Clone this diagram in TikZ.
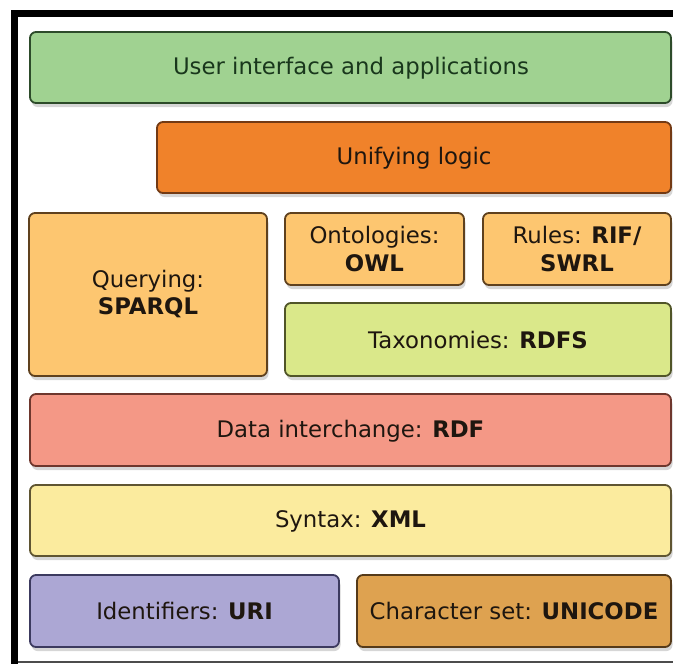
\documentclass[tikz,border=0pt]{standalone}
\usepackage{fontspec}
\setmainfont{DejaVu Sans}
\usetikzlibrary{shadows}
\definecolor{uiFill}{RGB}{160,210,145}
\definecolor{uiDraw}{RGB}{45,75,42}
\definecolor{uiText}{RGB}{25,55,28}
\definecolor{logicFill}{RGB}{240,130,42}
\definecolor{logicDraw}{RGB}{115,58,20}
\definecolor{paleOrange}{RGB}{253,198,112}
\definecolor{paleOrangeDraw}{RGB}{95,65,30}
\definecolor{taxFill}{RGB}{218,232,138}
\definecolor{taxDraw}{RGB}{80,85,40}
\definecolor{rdfFill}{RGB}{244,152,134}
\definecolor{rdfDraw}{RGB}{110,55,45}
\definecolor{xmlFill}{RGB}{251,235,158}
\definecolor{xmlDraw}{RGB}{95,85,50}
\definecolor{uriFill}{RGB}{172,167,212}
\definecolor{uriDraw}{RGB}{60,58,95}
\definecolor{uniFill}{RGB}{222,162,80}
\definecolor{uniDraw}{RGB}{85,58,25}
\definecolor{labelText}{RGB}{30,22,15}
\begin{document}
\begin{tikzpicture}[x=1pt,y=-1pt,
  layer/.style={draw, line width=1.8pt, rounded corners=6pt,
    drop shadow={opacity=0.32, shadow xshift=1.5pt, shadow yshift=-4pt}},
  caption/.style={text=labelText, font=\fontsize{22.8}{28}\selectfont, align=center},
]
\useasboundingbox (0,0) rectangle (673,664);
\fill[white] (0,0) rectangle (673,664);
% black frame on the top and left, thin rule at the bottom
\fill[black] (11,10) rectangle (673,17);
\fill[black] (11,10) rectangle (18,664);
\draw[black!70, line width=1.2pt] (18,662) -- (673,662);

% the layers of the stack, top to bottom
\path[layer, fill=uiFill, draw=uiDraw] (30,32) rectangle (671,103);
\node[caption, text=uiText] (ui) at (351,68) {User interface and applications};

\path[layer, fill=logicFill, draw=logicDraw] (157,122) rectangle (671,193);
\node[caption] (logic) at (414,158) {Unifying logic};

\path[layer, fill=paleOrange, draw=paleOrangeDraw] (29,213) rectangle (267,376);
\node[caption] (query) at (148,294) {Querying:\\\textbf{SPARQL}};

\path[layer, fill=paleOrange, draw=paleOrangeDraw] (285,213) rectangle (464,285);
\node[caption] (onto) at (374.5,249) {Ontologies:\\\textbf{OWL}};

\path[layer, fill=paleOrange, draw=paleOrangeDraw] (483,213) rectangle (671,285);
\node[caption] (rules) at (577,249) {Rules: \textbf{RIF/}\\\textbf{SWRL}};

\path[layer, fill=taxFill, draw=taxDraw] (285,303) rectangle (671,376);
\node[caption] (tax) at (478,340) {Taxonomies: \textbf{RDFS}};

\path[layer, fill=rdfFill, draw=rdfDraw] (30,394) rectangle (671,466);
\node[caption] (rdf) at (350.5,431) {Data interchange: \textbf{RDF}};

\path[layer, fill=xmlFill, draw=xmlDraw] (30,485) rectangle (671,556);
\node[caption] (xml) at (350.5,521) {Syntax: \textbf{XML}};

\path[layer, fill=uriFill, draw=uriDraw] (30,575) rectangle (339,647);
\node[caption] (uri) at (184.5,611) {Identifiers: \textbf{URI}};

\path[layer, fill=uniFill, draw=uniDraw] (357,575) rectangle (671,647);
\node[caption] (uni) at (514,611) {Character set: \textbf{UNICODE}};
\end{tikzpicture}
\end{document}
